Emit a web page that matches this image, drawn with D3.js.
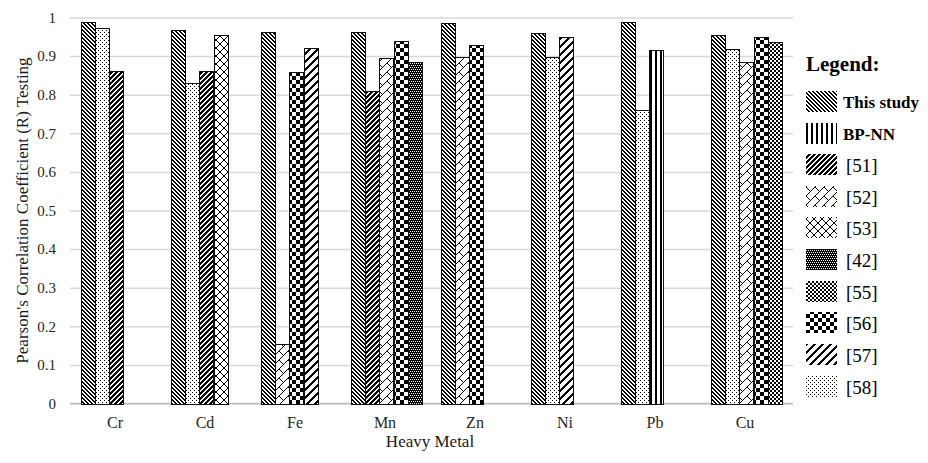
<!DOCTYPE html>
<html>
<head>
<meta charset="utf-8">
<script src="https://cdn.jsdelivr.net/npm/d3@7"></script>
<style>
  html, body { margin: 0; padding: 0; background: #fff; }
  svg { display: block; }
  svg text { font-family: "Liberation Serif", "Times New Roman", serif !important; }
</style>
</head>
<body>
<svg id="chart" width="928" height="463"></svg>
<script>
// ---------------- DATA ----------------
const categories = ["Cr", "Cd", "Fe", "Mn", "Zn", "Ni", "Pb", "Cu"];
const seriesNames = ["This study", "BP-NN", "[51]", "[52]", "[53]", "[42]", "[55]", "[56]", "[57]", "[58]"];
const boldSeries = ["This study", "BP-NN"];
// Bars of each category, in left-to-right order: source and value
const barSources = [
  ["This study", "[58]", "[51]"],
  ["This study", "[58]", "[51]", "[53]"],
  ["This study", "[52]", "[56]", "[57]"],
  ["This study", "[51]", "[52]", "[56]", "[42]"],
  ["This study", "[52]", "[56]"],
  ["This study", "[58]", "[57]"],
  ["This study", "[58]", "BP-NN"],
  ["This study", "[58]", "[52]", "[56]", "[55]"]
];
const barValues = [
  [0.988, 0.974, 0.861],
  [0.968, 0.831, 0.861, 0.955],
  [0.963, 0.153, 0.860, 0.920],
  [0.962, 0.810, 0.894, 0.940, 0.884],
  [0.985, 0.898, 0.930],
  [0.961, 0.898, 0.949],
  [0.988, 0.760, 0.916],
  [0.955, 0.919, 0.886, 0.949, 0.936]
];
const yTicks = [0, 0.1, 0.2, 0.3, 0.4, 0.5, 0.6, 0.7, 0.8, 0.9, 1];
const yTickLabels = ["0", "0.1", "0.2", "0.3", "0.4", "0.5", "0.6", "0.7", "0.8", "0.9", "1"];
const yTitle = "Pearson's Correlation Coefficient (R) Testing";
const xTitle = "Heavy Metal";
const legendTitle = "Legend:";

// Fill patterns as pixel bitmaps (X = black)
const patternBitmaps = {
  "This study": ["XX..", ".XX.", "..XX", "X..X"],
  "BP-NN": ["XX...", "XX..."],
  "[51]": ["..XXX", ".XXX.", "XXX..", "XX..X", "X..XX"],
  "[52]": ["X.......X", ".X.....X.", "..X...X..", "...X.X...", "....X....", "...X.....", "..X......", ".X.......", "X........"],
  "[53]": ["X......X", ".X....X.", "..X..X..", "...XX...", "...XX...", "..X..X..", ".X....X.", "X......X"],
  "[42]": ["XXXX", "X.X.", "XXXX", ".X.X"],
  "[55]": ["XX..", "XX..", "..XX", "..XX"],
  "[56]": ["XXXX....", "XXXX....", "XXXX....", "XXXX....", "....XXXX", "....XXXX", "....XXXX", "....XXXX"],
  "[57]": [".....XXX", "....XXX.", "...XXX..", "..XXX...", ".XXX....", "XXX.....", "XX.....X", "X.....XX"],
  "[58]": ["X...", "....", "..X.", "...."]
};

// ---------------- LAYOUT ----------------
const svg = d3.select("#chart");
const plot = { left: 70, right: 790, top: 17.5, bottom: 403.5 };
const maxSlots = d3.max(barSources, d => d.length);

const x = d3.scaleBand().domain(categories).range([plot.left, plot.right]).padding(0);
const slot = d3.scaleBand().domain(d3.range(maxSlots)).range([0, x.bandwidth()])
  .paddingInner(0).paddingOuter(0.714).align(0.575);
const y = d3.scaleLinear().domain([0, 1]).range([plot.bottom, plot.top]);

// ---------------- PATTERNS ----------------
const defs = svg.append("defs");
const patId = {};
seriesNames.forEach((s, i) => {
  patId[s] = "pat" + i;
  const rows = patternBitmaps[s];
  const h = rows.length, w = rows[0].length;
  const p = defs.append("pattern").attr("id", patId[s]).attr("patternUnits", "userSpaceOnUse")
    .attr("width", w).attr("height", h);
  p.append("rect").attr("width", w).attr("height", h).attr("fill", "#fff");
  const cells = [];
  rows.forEach((r, ry) => r.split("").forEach((ch, rx) => { if (ch === "X") cells.push([rx, ry]); }));
  p.selectAll("rect.px").data(cells).join("rect").attr("class", "px")
    .attr("x", d => d[0]).attr("y", d => d[1]).attr("width", 1).attr("height", 1)
    .attr("fill", "#000").attr("shape-rendering", "crispEdges");
});

// ---------------- GRID + AXES ----------------
const yAxis = d3.axisLeft(y).tickValues(yTicks).tickSize(-(plot.right - plot.left + 3))
  .tickFormat((d, i) => yTickLabels[i]).tickPadding(14);
const gy = svg.append("g").attr("transform", `translate(${plot.left},0)`).call(yAxis);
gy.attr("font-family", null);
gy.select(".domain").remove();
gy.selectAll(".tick line").attr("stroke", "#d9d9d9").attr("stroke-width", 1.5);
gy.selectAll(".tick text").attr("font-size", 15).attr("fill", "#262626");

const xAxis = d3.axisBottom(x).tickSize(0).tickPadding(13);
const gx = svg.append("g").attr("transform", `translate(0,${plot.bottom})`).call(xAxis);
gx.attr("font-family", null);
gx.select(".domain").attr("stroke", "#bfbfbf").attr("stroke-width", 1.5)
  .attr("d", `M${plot.left},0H${plot.right + 3}`);
gx.selectAll(".tick text").attr("font-size", 16).attr("fill", "#262626");

// ---------------- BARS ----------------
const bars = [];
categories.forEach((c, ci) => {
  barSources[ci].forEach((s, si) => bars.push({ cat: c, slot: si, src: s, val: barValues[ci][si] }));
});
svg.append("g").selectAll("rect").data(bars).join("rect")
  .attr("x", d => Math.round(x(d.cat) + slot(d.slot)) + 0.5)
  .attr("y", d => Math.round(y(d.val)) + 0.5)
  .attr("width", slot.bandwidth())
  .attr("height", d => Math.round(y(0)) - Math.round(y(d.val)))
  .attr("fill", d => `url(#${patId[d.src]})`)
  .attr("stroke", "#111").attr("stroke-width", 1);

// ---------------- TITLES ----------------
svg.append("text").attr("transform", `translate(22,${(plot.top + plot.bottom) / 2}) rotate(-90)`)
  .attr("text-anchor", "middle").attr("dominant-baseline", "central")
  .attr("font-size", 17).attr("fill", "#1a1a1a").text(yTitle);
svg.append("text").attr("x", (plot.left + plot.right) / 2).attr("y", 447)
  .attr("text-anchor", "middle").attr("font-size", 17).attr("fill", "#1a1a1a").text(xTitle);

// ---------------- LEGEND ----------------
const lg = svg.append("g").attr("transform", "translate(806,0)");
lg.append("text").attr("x", 0).attr("y", 71).attr("font-size", 21).attr("font-weight", "bold")
  .attr("fill", "#000").text(legendTitle);
const ly = d3.scalePoint().domain(seriesNames).range([101, 385.5]);
const items = lg.selectAll("g.item").data(seriesNames).join("g").attr("class", "item")
  .attr("transform", d => `translate(0,${Math.round(ly(d))})`);
items.append("rect").attr("x", 0).attr("y", -10).attr("width", 31).attr("height", 21)
  .attr("fill", d => `url(#${patId[d]})`);
items.append("text").attr("x", d => boldSeries.includes(d) ? 37 : 40).attr("y", 1)
  .attr("dominant-baseline", "central")
  .attr("font-size", d => boldSeries.includes(d) ? 17 : 19)
  .attr("font-weight", d => boldSeries.includes(d) ? "bold" : "normal")
  .attr("fill", "#000").text(d => d);
</script>
</body>
</html>
